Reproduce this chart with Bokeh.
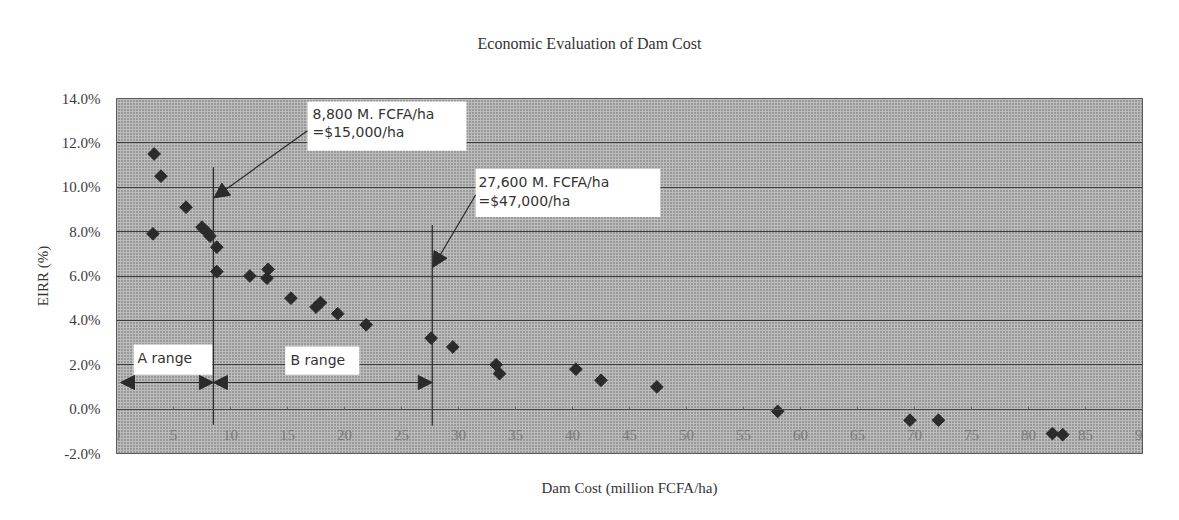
from bokeh.plotting import figure
from bokeh.models import (FixedTicker, BoxAnnotation, Label, Arrow, NormalHead,
                          Title, ColumnDataSource)
from bokeh.embed import file_html
from bokeh.resources import INLINE

# ---------------- data ----------------
dam_cost = [3.3, 3.9, 6.1, 3.2, 7.5, 7.9, 8.2, 8.8, 8.8, 11.7, 13.3, 13.2,
            15.3, 17.5, 17.9, 19.4, 21.9, 27.6, 29.5, 33.3, 33.6, 40.3, 42.5,
            47.4, 58.0, 69.6, 72.1, 82.1, 83.0]
eirr = [11.5, 10.5, 9.1, 7.9, 8.2, 8.0, 7.8, 7.3, 6.2, 6.0, 6.3, 5.9,
        5.0, 4.6, 4.8, 4.3, 3.8, 3.2, 2.8, 2.0, 1.6, 1.8, 1.3,
        1.0, -0.1, -0.5, -0.5, -1.1, -1.15]

x_ticks = [0, 5, 10, 15, 20, 25, 30, 35, 40, 45, 50, 55, 60, 65, 70, 75, 80, 85, 90]
x_tick_labels = ["0", "5", "10", "15", "20", "25", "30", "35", "40", "45",
                 "50", "55", "60", "65", "70", "75", "80", "85", "90"]
y_ticks = [-2, 0, 2, 4, 6, 8, 10, 12, 14]
y_tick_labels = ["-2.0%", "0.0%", "2.0%", "4.0%", "6.0%", "8.0%", "10.0%", "12.0%", "14.0%"]

threshold_a = 8.5     # 8,800 M. FCFA/ha line
threshold_b = 27.7    # 27,600 M. FCFA/ha line
note_a = ["8,800 M. FCFA/ha", "=$15,000/ha"]
note_b = ["27,600 M. FCFA/ha", "=$47,000/ha"]
range_labels = ["A range", "B range"]

title_text = "Economic Evaluation of Dam Cost"
x_label = "Dam Cost (million FCFA/ha)"
y_label = "EIRR (%)"

SERIF = "Liberation Serif"
SANS = "DejaVu Sans"
DARK = "#2b2b2b"

# ---------------- figure ----------------
p = figure(width=1171, height=520, x_range=(0, 90), y_range=(-2, 14),
           title=None, output_backend="svg", toolbar_location=None,
           min_border_left=116, min_border_right=29,
           min_border_top=98, min_border_bottom=66,
           background_fill_color="#b0b0b0", border_fill_color="white",
           outline_line_color="#3a3a3a", outline_line_width=1)

# dotted halftone look of the plot area
p.add_layout(BoxAnnotation(fill_color="#bdbdbd", fill_alpha=1.0,
                           hatch_pattern=".", hatch_color="#555555",
                           hatch_scale=3, hatch_weight=1.0, hatch_alpha=0.9,
                           line_color=None, level="image"))

# title: an empty spacer next to the frame, then the real title above it
p.add_layout(Title(text=" ", text_font=SERIF, text_font_size="16px",
                   standoff=28), "above")
p.add_layout(Title(text=title_text, align="left", offset=361, standoff=0,
                   text_font=SERIF, text_font_size="16px",
                   text_font_style="normal", text_color="#333333"), "above")

# y axis
p.yaxis.ticker = FixedTicker(ticks=y_ticks)
p.yaxis.major_label_overrides = dict(zip(y_ticks, y_tick_labels))
p.yaxis.major_label_text_font = SERIF
p.yaxis.major_label_text_font_size = "15px"
p.yaxis.major_label_text_color = "#3a3a3a"
p.yaxis.major_label_standoff = 10
p.yaxis.major_tick_line_color = None
p.yaxis.minor_tick_line_color = None
p.yaxis.axis_line_color = None
p.yaxis.axis_label = y_label
p.yaxis.axis_label_text_font = SERIF
p.yaxis.axis_label_text_font_size = "15px"
p.yaxis.axis_label_text_font_style = "normal"
p.yaxis.axis_label_text_color = "#333333"
p.yaxis.axis_label_standoff = 8

# x axis crossing at 0 %
p.xaxis.fixed_location = 0
p.xaxis.ticker = FixedTicker(ticks=x_ticks)
p.xaxis.major_label_overrides = dict(zip(x_ticks, x_tick_labels))
p.xaxis.major_label_text_font = SERIF
p.xaxis.major_label_text_font_size = "15px"
p.xaxis.major_label_text_color = "#7a7a7a"
p.xaxis.major_label_standoff = 21
p.xaxis.major_tick_in = 3
p.xaxis.major_tick_out = 0
p.xaxis.major_tick_line_color = "#666666"
p.xaxis.minor_tick_line_color = None
p.xaxis.axis_line_color = "#444444"
p.xaxis.axis_line_width = 1

p.add_layout(Title(text=x_label, align="center", text_font=SERIF,
                   text_font_size="15px", text_font_style="normal",
                   text_color="#333333", standoff=49), "below")

# grid
p.xgrid.grid_line_color = None
p.ygrid.ticker = FixedTicker(ticks=y_ticks)
p.ygrid.grid_line_color = "#3c3c3c"
p.ygrid.grid_line_width = 1

# ---------------- vertical threshold lines ----------------
p.segment(x0=[threshold_a, threshold_b], y0=[-0.7, -0.75],
          x1=[threshold_a, threshold_b], y1=[10.9, 8.3],
          line_color=DARK, line_width=1.2)

# ---------------- range arrows ----------------
def head():
    return NormalHead(size=14, fill_color=DARK, line_color=DARK)

p.add_layout(Arrow(start=head(), end=head(), x_start=0.35, y_start=1.2,
                   x_end=threshold_a, y_end=1.2, line_color=DARK, line_width=1.2))
p.add_layout(Arrow(start=head(), end=head(), x_start=threshold_a, y_start=1.2,
                   x_end=threshold_b, y_end=1.2, line_color=DARK, line_width=1.2))

# ---------------- data points ----------------
src = ColumnDataSource(dict(x=dam_cost, y=eirr))
p.scatter("x", "y", source=src, marker="square", angle=0.785398, size=9,
          fill_color=DARK, line_color=DARK)

# ---------------- callouts ----------------
def white_box(l, r, b, t):
    p.add_layout(BoxAnnotation(left=l, right=r, bottom=b, top=t,
                               fill_color="white", fill_alpha=1.0,
                               line_color=None, level="annotation"))

def text(x, y, s):
    p.add_layout(Label(x=x, y=y, text=s, text_font=SANS, text_font_size="14px",
                       text_color="#333333", text_baseline="middle",
                       text_align="left"))

white_box(16.75, 30.7, 11.64, 13.86)
text(17.2, 13.3, note_a[0])
text(17.2, 12.5, note_a[1])

white_box(31.5, 47.7, 8.66, 10.83)
text(31.75, 10.24, note_b[0])
text(31.75, 9.38, note_b[1])

white_box(1.5, 8.4, 1.55, 2.91)
text(1.84, 2.32, range_labels[0])

white_box(14.8, 21.3, 1.55, 2.82)
text(15.26, 2.23, range_labels[1])

# callout arrows
p.add_layout(Arrow(end=NormalHead(size=15, fill_color=DARK, line_color=DARK),
                   x_start=16.75, y_start=12.55, x_end=threshold_a + 0.05, y_end=9.52,
                   line_color=DARK, line_width=1.2))
p.add_layout(Arrow(end=NormalHead(size=15, fill_color=DARK, line_color=DARK),
                   x_start=31.5, y_start=9.65, x_end=threshold_b + 0.05, y_end=6.39,
                   line_color=DARK, line_width=1.2))

open("out.html", "w").write(file_html(p, INLINE))
